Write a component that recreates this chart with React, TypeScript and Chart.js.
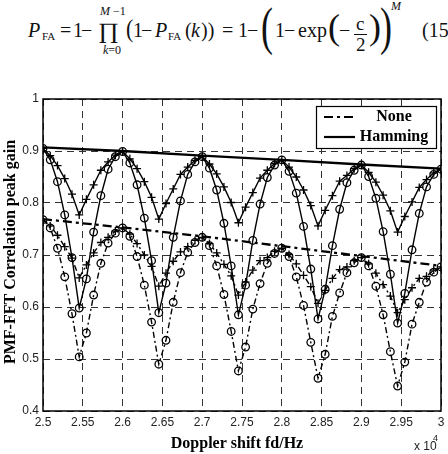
import React, { useEffect, useRef } from "react";
import { Chart, registerables } from "chart.js";

Chart.register(...registerables);

// Doppler shift sample points (x 10^4 Hz)
const fdAxis = [
  2.5, 2.5091, 2.5182, 2.5273, 2.5364, 2.5455, 2.5545, 2.5636, 2.5727, 2.5818, 2.5909,
  2.6, 2.6091, 2.6182, 2.6273, 2.6364, 2.6455, 2.6545, 2.6636, 2.6727, 2.6818, 2.6909,
  2.7, 2.7091, 2.7182, 2.7273, 2.7364, 2.7455, 2.7545, 2.7636, 2.7727, 2.7818, 2.7909,
  2.8, 2.8091, 2.8182, 2.8273, 2.8364, 2.8455, 2.8545, 2.8636, 2.8727, 2.8818, 2.8909,
  2.9, 2.9091, 2.9182, 2.9273, 2.9364, 2.9455, 2.9545, 2.9636, 2.9727, 2.9818, 2.9909,
  3.0,
];

// Hamming window, shallow curve (+ markers)
const hammingPlus = [
  0.905, 0.891, 0.872, 0.847, 0.817, 0.777, 0.807, 0.835, 0.863, 0.879, 0.892,
  0.899, 0.885, 0.866, 0.841, 0.811, 0.769, 0.799, 0.827, 0.855, 0.869, 0.882,
  0.889, 0.875, 0.856, 0.831, 0.801, 0.762, 0.792, 0.82, 0.848, 0.863, 0.876,
  0.883, 0.869, 0.85, 0.825, 0.795, 0.756, 0.786, 0.814, 0.842, 0.853, 0.866,
  0.873, 0.859, 0.84, 0.815, 0.785, 0.744, 0.774, 0.802, 0.83, 0.845, 0.858,
  0.865,
];

// Hamming window, deep curve (o markers)
const hammingCircle = [
  0.905, 0.883, 0.841, 0.777, 0.695, 0.598, 0.654, 0.744, 0.814, 0.865, 0.889,
  0.899, 0.877, 0.835, 0.771, 0.689, 0.589, 0.646, 0.734, 0.804, 0.855, 0.879,
  0.889, 0.867, 0.825, 0.761, 0.679, 0.585, 0.642, 0.728, 0.798, 0.849, 0.873,
  0.883, 0.861, 0.819, 0.755, 0.673, 0.577, 0.634, 0.718, 0.788, 0.839, 0.863,
  0.873, 0.851, 0.809, 0.745, 0.663, 0.569, 0.626, 0.71, 0.78, 0.831, 0.855,
  0.865,
];

// No window, shallow curve (+ markers)
const nonePlus = [
  0.768, 0.756, 0.738, 0.716, 0.694, 0.656, 0.681, 0.704, 0.724, 0.734, 0.746,
  0.752, 0.74, 0.722, 0.7, 0.678, 0.64, 0.665, 0.688, 0.706, 0.716, 0.728,
  0.734, 0.722, 0.704, 0.682, 0.66, 0.623, 0.648, 0.671, 0.689, 0.695, 0.707,
  0.713, 0.701, 0.683, 0.661, 0.639, 0.607, 0.632, 0.655, 0.672, 0.677, 0.689,
  0.695, 0.683, 0.665, 0.643, 0.621, 0.589, 0.614, 0.637, 0.655, 0.659, 0.671,
  0.677,
];

// No window, deep curve (o markers)
const noneCircle = [
  0.768, 0.752, 0.713, 0.658, 0.587, 0.504, 0.55, 0.623, 0.684, 0.723, 0.742,
  0.752, 0.736, 0.697, 0.642, 0.571, 0.49, 0.536, 0.609, 0.666, 0.705, 0.724,
  0.734, 0.718, 0.679, 0.624, 0.553, 0.477, 0.523, 0.596, 0.645, 0.684, 0.703,
  0.713, 0.697, 0.658, 0.603, 0.532, 0.463, 0.509, 0.582, 0.627, 0.666, 0.685,
  0.695, 0.679, 0.64, 0.585, 0.514, 0.448, 0.494, 0.567, 0.609, 0.648, 0.667,
  0.677,
];

// Peak envelopes
const peakFd = [2.5, 2.6, 2.7, 2.8, 2.9, 3.0];
const hammingEnvelope = [0.907, 0.9, 0.891, 0.883, 0.874, 0.866];
const noneEnvelope = [0.769, 0.753, 0.736, 0.717, 0.698, 0.679];

const legendLabels = ["None", "Hamming"];
const xTitle = "Doppler shift fd/Hz";
const yTitle = "PMF-FFT Correlation peak gain";

const SERIF = '"Liberation Serif", "Times New Roman", serif';
const SANS = '"Liberation Sans", Arial, Helvetica, sans-serif';
const DASHDOT = [6, 3, 2, 3];
const DASHDOT_THICK = [9, 4, 3, 4];

const pts = (xs: number[], ys: number[]) => xs.map((x, i) => ({ x, y: ys[i] }));

const overlayPlugin = {
  id: "overlay",
  afterDraw(chart: any) {
    const { ctx, chartArea: a } = chart;
    ctx.save();
    ctx.setLineDash([]);
    ctx.strokeStyle = "#000";
    ctx.lineWidth = 1.5;
    ctx.strokeRect(a.left, a.top, a.right - a.left, a.bottom - a.top);

    // legend box
    const lx = 316, ly = 106, lw = 120, lh = 42;
    ctx.fillStyle = "#fff";
    ctx.fillRect(lx, ly, lw, lh);
    ctx.lineWidth = 1.2;
    ctx.strokeRect(lx + 0.5, ly + 0.5, lw, lh);
    ctx.lineWidth = 2.2;
    ctx.setLineDash(DASHDOT_THICK);
    ctx.beginPath();
    ctx.moveTo(324, 117);
    ctx.lineTo(354, 117);
    ctx.stroke();
    ctx.setLineDash([]);
    ctx.beginPath();
    ctx.moveTo(324, 137);
    ctx.lineTo(355, 137);
    ctx.stroke();
    ctx.fillStyle = "#000";
    ctx.font = `bold 16px ${SERIF}`;
    ctx.textAlign = "center";
    ctx.textBaseline = "middle";
    ctx.fillText(legendLabels[0], 394, 117);
    ctx.fillText(legendLabels[1], 394, 137);

    // axis titles
    ctx.fillText(xTitle, 237, 444);
    ctx.save();
    ctx.translate(11, 252);
    ctx.rotate(-Math.PI / 2);
    ctx.fillText(yTitle, 0, 0);
    ctx.restore();

    // exponent label
    ctx.font = `12px ${SANS}`;
    ctx.fillStyle = "#222";
    ctx.textAlign = "left";
    ctx.textBaseline = "alphabetic";
    ctx.fillText("x 10", 414, 450);
    ctx.font = `9px ${SANS}`;
    ctx.fillText("4", 433, 441);
    ctx.restore();
  },
};

type TP = {
  x: number;
  y: number;
  s: number;
  i?: boolean;
  sy?: number;
  sx?: number;
  children: React.ReactNode;
};

// text placed with its baseline at y
function T({ x, y, s, i, sy, sx, children }: TP) {
  const top = y - 0.8375 * s;
  const tf = sy || sx ? `scale(${sx || 1}, ${sy || 1})` : undefined;
  return (
    <span
      style={{
        position: "absolute",
        left: x,
        top,
        fontSize: s,
        lineHeight: `${s}px`,
        fontFamily: SERIF,
        fontStyle: i ? "italic" : "normal",
        whiteSpace: "pre",
        color: "#111",
        transform: tf,
        transformOrigin: `0 ${0.5975 * s}px`,
      }}
    >
      {children}
    </span>
  );
}

// glyph whose vertical centre (for parentheses) sits at cy
function P({ x, cy, s, sy, children }: { x: number; cy: number; s: number; sy: number; children: React.ReactNode }) {
  return (
    <span
      style={{
        position: "absolute",
        left: x,
        top: cy - 0.5975 * s,
        fontSize: s,
        lineHeight: `${s}px`,
        fontFamily: SERIF,
        color: "#111",
        transform: `scaleY(${sy})`,
        transformOrigin: `50% ${0.5975 * s}px`,
      }}
    >
      {children}
    </span>
  );
}

function Equation() {
  return (
    <div style={{ position: "absolute", left: 0, top: 0, width: 448, height: 62, overflow: "hidden" }}>
      <T x={28} y={37} s={20} i>P</T>
      <T x={42} y={40} s={11}>FA</T>
      <T x={60} y={37} s={20}>=</T>
      <T x={73} y={37} s={20}>1</T>
      <T x={81} y={37} s={20}>−</T>
      <T x={98} y={38} s={22} sx={1.15}>∏</T>
      <T x={100} y={15} s={12}><i>M</i> −1</T>
      <T x={103} y={54} s={12}><i>k</i>=0</T>
      <P x={126} cy={32} s={22} sy={1.1}>(</P>
      <T x={133} y={37} s={20}>1</T>
      <T x={141} y={37} s={20}>−</T>
      <T x={155} y={37} s={20} i>P</T>
      <T x={168} y={40} s={11}>FA</T>
      <T x={185} y={37} s={20}>(</T>
      <T x={191} y={37} s={20} i>k</T>
      <T x={201} y={37} s={20}>))</T>
      <T x={222} y={37} s={20}>=</T>
      <T x={238} y={37} s={20}>1</T>
      <T x={247} y={37} s={20}>−</T>
      <P x={261} cy={31.5} s={36} sy={1.45}>(</P>
      <T x={275} y={37} s={20}>1</T>
      <T x={284} y={37} s={20}>−</T>
      <T x={298} y={37} s={20}>exp</T>
      <P x={328} cy={31} s={36} sy={1.0}>(</P>
      <T x={339} y={37} s={20}>−</T>
      <T x={356} y={30} s={19}>c</T>
      <div style={{ position: "absolute", left: 354, top: 34, width: 13, height: 1, background: "#111" }} />
      <T x={356} y={51} s={19}>2</T>
      <P x={369} cy={31} s={36} sy={1.0}>)</P>
      <P x={380} cy={31.5} s={36} sy={1.45}>)</P>
      <T x={391} y={10} s={12} i>M</T>
      <T x={422} y={37} s={20}>(15)</T>
    </div>
  );
}

export default function App() {
  const ref = useRef<HTMLCanvasElement | null>(null);

  useEffect(() => {
    if (!ref.current) return;
    const black = "#000";
    const chart = new Chart(ref.current, {
      type: "line",
      data: {
        datasets: [
          {
            label: "None",
            data: pts(peakFd, noneEnvelope),
            borderColor: black,
            borderWidth: 2.3,
            borderDash: DASHDOT_THICK,
            pointRadius: 0,
          },
          {
            label: "Hamming",
            data: pts(peakFd, hammingEnvelope),
            borderColor: black,
            borderWidth: 2.3,
            pointRadius: 0,
          },
          {
            label: "None o",
            data: pts(fdAxis, noneCircle),
            borderColor: black,
            borderWidth: 1.4,
            borderDash: DASHDOT,
            pointStyle: "circle",
            pointRadius: 3.8,
            pointBorderWidth: 1.3,
            pointBorderColor: black,
            pointBackgroundColor: "rgba(0,0,0,0)",
          },
          {
            label: "None +",
            data: pts(fdAxis, nonePlus),
            borderColor: black,
            borderWidth: 1.4,
            borderDash: DASHDOT,
            pointStyle: "cross",
            pointRadius: 4,
            pointBorderWidth: 1.3,
            pointBorderColor: black,
          },
          {
            label: "Hamming o",
            data: pts(fdAxis, hammingCircle),
            borderColor: black,
            borderWidth: 1.4,
            pointStyle: "circle",
            pointRadius: 3.8,
            pointBorderWidth: 1.3,
            pointBorderColor: black,
            pointBackgroundColor: "rgba(0,0,0,0)",
          },
          {
            label: "Hamming +",
            data: pts(fdAxis, hammingPlus),
            borderColor: black,
            borderWidth: 1.4,
            pointStyle: "cross",
            pointRadius: 4,
            pointBorderWidth: 1.3,
            pointBorderColor: black,
          },
        ],
      },
      options: {
        responsive: false,
        animation: false,
        events: [],
        devicePixelRatio: 1,
        layout: { padding: { left: 0, right: 7, top: 99, bottom: 0 } },
        elements: { line: { tension: 0 } },
        plugins: { legend: { display: false }, tooltip: { enabled: false } },
        scales: {
          x: {
            type: "linear",
            min: 2.5,
            max: 3.0,
            afterFit: (s: any) => {
              s.height = 43;
              s.paddingLeft = 0;
              s.paddingRight = 0;
            },
            ticks: {
              stepSize: 0.05,
              autoSkip: false,
              maxRotation: 0,
              padding: 4,
              color: "#222",
              font: { family: SANS, size: 12 },
              callback: (v: any) => String(Number(Number(v).toFixed(2))),
            },
            grid: { color: "#333", lineWidth: 1, drawTicks: false },
            border: { display: false, dash: [7, 5] },
          },
          y: {
            type: "linear",
            min: 0.4,
            max: 1,
            afterFit: (s: any) => {
              s.width = 43;
              s.paddingTop = 0;
              s.paddingBottom = 0;
            },
            ticks: {
              stepSize: 0.1,
              padding: 4,
              color: "#222",
              font: { family: SANS, size: 12 },
              callback: (v: any) => String(Number(Number(v).toFixed(2))),
            },
            grid: { color: "#333", lineWidth: 1, drawTicks: false },
            border: { display: false, dash: [7, 5] },
          },
        },
      },
      plugins: [overlayPlugin],
    });
    return () => chart.destroy();
  }, []);

  return (
    <div
      style={{
        position: "fixed",
        left: 0,
        top: 0,
        width: 448,
        height: 454,
        background: "#fff",
        overflow: "hidden",
      }}
    >
      <Equation />
      <canvas
        ref={ref}
        width={448}
        height={454}
        style={{ position: "absolute", left: 0, top: 0, width: 448, height: 454 }}
      />
    </div>
  );
}
